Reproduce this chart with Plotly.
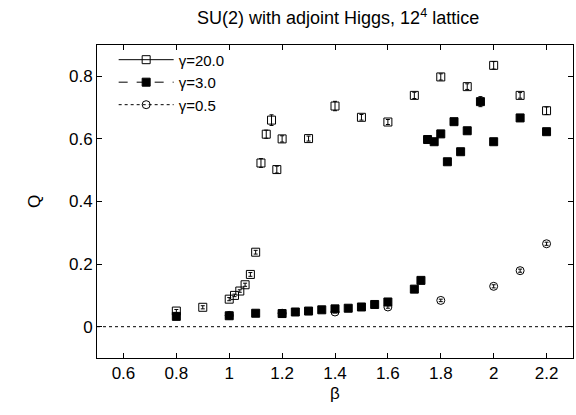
import plotly.graph_objects as go

# gamma = 20.0 (open squares)
beta_g20 = [0.8, 0.9, 1.0, 1.02, 1.04, 1.06, 1.08, 1.1, 1.12, 1.14, 1.16, 1.18, 1.2,
            1.3, 1.4, 1.5, 1.6, 1.7, 1.8, 1.9, 2.0, 2.1, 2.2]
q_g20 = [0.050, 0.062, 0.088, 0.100, 0.114, 0.134, 0.167, 0.238, 0.523, 0.615, 0.660,
         0.502, 0.600, 0.601, 0.705, 0.669, 0.654, 0.739, 0.798, 0.767, 0.835, 0.739, 0.690]
err_g20 = [0.005, 0.005, 0.005, 0.004, 0.004, 0.005, 0.006, 0.006, 0.014, 0.013, 0.017,
           0.011, 0.010, 0.008, 0.015, 0.009, 0.008, 0.010, 0.010, 0.009, 0.012, 0.009, 0.012]

# gamma = 3.0 (filled squares)
beta_g3 = [0.8, 1.0, 1.1, 1.2, 1.25, 1.3, 1.35, 1.4, 1.45, 1.5, 1.55, 1.6, 1.7, 1.725,
           1.75, 1.775, 1.8, 1.825, 1.85, 1.875, 1.9, 1.95, 2.0, 2.1, 2.2]
q_g3 = [0.033, 0.035, 0.043, 0.042, 0.047, 0.050, 0.054, 0.057, 0.059, 0.063, 0.071, 0.079,
        0.120, 0.148, 0.598, 0.591, 0.616, 0.527, 0.655, 0.559, 0.626, 0.719, 0.591, 0.667, 0.623]
err_g3 = [0.003, 0.003, 0.003, 0.003, 0.003, 0.003, 0.003, 0.003, 0.003, 0.003, 0.003, 0.004,
          0.005, 0.005, 0.008, 0.006, 0.008, 0.006, 0.006, 0.006, 0.006, 0.016, 0.006, 0.010, 0.006]

# gamma = 0.5 (open circles)
beta_g05 = [1.0, 1.2, 1.4, 1.6, 1.8, 2.0, 2.1, 2.2]
q_g05 = [0.036, 0.043, 0.047, 0.063, 0.084, 0.129, 0.179, 0.265]
err_g05 = [0.003, 0.003, 0.003, 0.004, 0.004, 0.005, 0.005, 0.005]

FONT = "Liberation Sans, Arial, sans-serif"
fig = go.Figure()

# zero reference line (dotted)
fig.add_hline(y=0, line=dict(color="black", width=1, dash="dot"))

series = [
    (beta_g20, q_g20, err_g20, "γ=20.0", "square-open", "solid"),
    (beta_g3, q_g3, err_g3, "γ=3.0", "square", "dash"),
    (beta_g05, q_g05, err_g05, "γ=0.5", "circle-open", "dot"),
]

# data traces (draw circles first, filled squares on top)
for x, y, e, name, symbol, dash in [series[2], series[0], series[1]]:
    fig.add_trace(go.Scatter(
        x=x, y=y, mode="markers", showlegend=False,
        error_y=dict(type="data", array=e, visible=True, color="black", thickness=1, width=2),
        marker=dict(symbol=symbol, size=8, color="black", line=dict(color="black", width=1)),
    ))

# legend samples (gnuplot-style line + point)
for x, y, e, name, symbol, dash in series:
    fig.add_trace(go.Scatter(
        x=[None], y=[None], mode="lines+markers", name=name,
        line=dict(color="black", width=1, dash=dash),
        marker=dict(symbol=symbol, size=8, color="black", line=dict(color="black", width=1)),
    ))

axis_common = dict(
    showline=True, linecolor="black", linewidth=1, mirror="allticks",
    ticks="inside", ticklen=5, tickcolor="black", showgrid=False, zeroline=False,
    automargin=False,
    tickfont=dict(family=FONT, size=17, color="black"),
)

fig.update_layout(
    width=576, height=415,
    margin=dict(l=97, r=3, t=45, b=57, autoexpand=False),
    paper_bgcolor="white", plot_bgcolor="white",
    title=dict(text="SU(2) with adjoint Higgs, 12<sup>4</sup> lattice",
               x=0.587, xanchor="center", y=0.957, yanchor="middle",
               font=dict(family=FONT, size=18, color="black")),
    xaxis=dict(range=[0.5, 2.3], tickvals=[0.6, 0.8, 1.0, 1.2, 1.4, 1.6, 1.8, 2.0, 2.2],
               ticktext=["0.6", "0.8", "1", "1.2", "1.4", "1.6", "1.8", "2", "2.2"],
               title=dict(text="β", font=dict(family=FONT, size=17, color="black"), standoff=4),
               **axis_common),
    yaxis=dict(range=[-0.1, 0.9], tickvals=[0, 0.2, 0.4, 0.6, 0.8],
               ticktext=["0", "0.2", "0.4", "0.6", "0.8"],
               title=dict(text="Q", font=dict(family=FONT, size=17, color="black"), standoff=24),
               **axis_common),
    legend=dict(x=0.035, y=1.005, xanchor="left", yanchor="top", traceorder="normal",
                bgcolor="rgba(0,0,0,0)", font=dict(family=FONT, size=15, color="black"),
                tracegroupgap=0, itemwidth=55),
    font=dict(family=FONT, color="black"),
)

fig.write_html("out.html", config={"displayModeBar": False},
               post_script="document.body.style.margin='0';")
